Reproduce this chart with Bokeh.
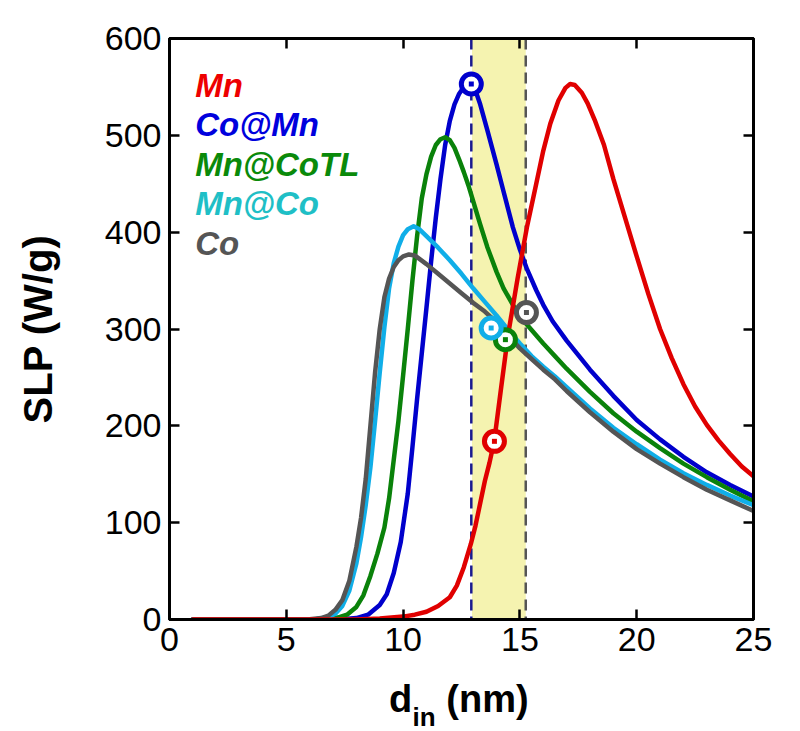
from bokeh.plotting import figure
from bokeh.layouts import column
from bokeh.models import (Range1d, LinearAxis, FixedTicker, Span, BoxAnnotation,
                          Label, CustomJSTickFormatter)
from bokeh.embed import file_html
from bokeh.resources import INLINE

# ---------------- data ----------------
mn_x = [1, 8, 9, 10, 10.5, 11, 11.5, 12, 12.3, 12.6, 12.9, 13.1, 13.3, 13.5, 13.7, 13.9,
        14.2, 14.5, 14.9, 15.3, 15.7, 16.0, 16.3, 16.65, 16.95, 17.15, 17.35, 17.65,
        17.9, 18.2, 18.6, 19.0, 19.5, 20.0, 20.5, 21.0, 21.5, 22.0, 22.5, 23.0, 23.5,
        24.0, 24.5, 25.0]
mn_y = [0, 0, 1, 3, 5, 8, 14, 23, 35, 54, 78, 97, 120, 143, 162, 184,
        240, 295, 352, 405, 450, 484, 512, 536, 549, 553, 552, 544,
        533, 516, 490, 455, 415, 375, 336, 300, 270, 243, 220, 201, 185,
        171, 158, 148]

comn_x = [1, 6.5, 7.5, 8.0, 8.5, 9.0, 9.3, 9.6, 9.9, 10.2, 10.4, 10.6, 10.8, 11.0, 11.2,
          11.4, 11.6, 11.8, 12.0, 12.2, 12.4, 12.6, 12.85, 13.1, 13.3, 13.6, 14.0, 14.3,
          14.7, 15.0, 15.3, 15.7, 16.0, 16.4, 17.0, 18.0, 19.0, 20.0, 21.0, 22.0, 23.0,
          24.0, 25.0]
comn_y = [0, 0, 0.5, 1.5, 5, 15, 26, 48, 80, 130, 178, 228, 275, 322, 370,
          415, 455, 490, 515, 532, 543, 550, 553, 546, 532, 506, 470, 442,
          405, 382, 362, 340, 325, 308, 288, 258, 231, 206, 186, 168, 152,
          139, 127]

mncotl_x = [1, 6.0, 6.8, 7.2, 7.6, 8.0, 8.3, 8.6, 8.9, 9.2, 9.4, 9.6, 9.8, 10.0, 10.2,
            10.4, 10.6, 10.8, 11.0, 11.2, 11.4, 11.6, 11.8, 12.0, 12.2, 12.4, 12.6, 12.8,
            13.0, 13.3, 13.6, 14.0, 14.3, 14.7, 15.0, 15.5, 16.0, 16.5, 17.0, 18.0, 19.0,
            20.0, 21.0, 22.0, 23.0, 24.0, 25.0]
mncotl_y = [0, 0, 0.8, 2, 5, 13, 25, 45, 68, 95, 125, 165, 205, 252, 300,
            350, 396, 435, 460, 478, 490, 496, 498, 495, 487, 475, 462, 448,
            432, 408, 385, 359, 342, 325, 313, 299, 285, 272, 259, 235, 213,
            194, 177, 161, 147, 134, 122]

mnco_x = [1, 5.0, 6.3, 6.8, 7.1, 7.4, 7.7, 8.0, 8.2, 8.4, 8.6, 8.8, 9.0, 9.2, 9.4, 9.6,
          9.8, 10.0, 10.2, 10.45, 10.7, 11.0, 11.5, 12.0, 12.5, 13.0, 13.5, 14.0, 14.5,
          15.0, 15.5, 16.0, 16.5, 17.0, 18.0, 19.0, 20.0, 21.0, 22.0, 23.0, 24.0, 25.0]
mnco_y = [0, 0, 0.5, 2.5, 6, 14, 30, 58, 85, 118, 157, 205, 255, 302, 342, 368,
          385, 397, 403, 406, 403, 396, 384, 371, 357, 342, 328, 314, 299,
          285, 272, 261, 251, 240, 218, 198, 181, 165, 151, 139, 128, 118]

co_x = [1, 5.0, 6.0, 6.5, 6.8, 7.1, 7.4, 7.7, 8.0, 8.2, 8.4, 8.6, 8.8, 9.0, 9.2, 9.4,
        9.6, 9.8, 10.0, 10.25, 10.5, 11.0, 11.5, 12.0, 12.5, 13.0, 13.5, 14.0, 14.5,
        15.0, 15.5, 16.0, 16.5, 17.0, 18.0, 19.0, 20.0, 21.0, 22.0, 23.0, 24.0, 25.0]
co_y = [0, 0, 0.3, 1.5, 4, 10, 20, 40, 75, 105, 145, 200, 255, 300, 333, 352,
        364, 371, 375, 377, 376, 367, 357, 347, 337, 327, 318, 307, 293,
        280, 269, 258, 248, 236, 214, 194, 176, 161, 147, 134, 123, 112]

# highlighted points (open circles)
mark_x = [13.91, 12.92, 14.38, 13.77, 15.28]
mark_y = [184, 553, 289, 301, 317]

series_names = ["Mn", "Co@Mn", "Mn@CoTL", "Mn@Co", "Co"]
line_colors = ["#E00000", "#0000CC", "#0A820A", "#10AEE8", "#555555"]
text_colors = ["#EE0000", "#0000DD", "#0A8A0A", "#1FBFC6", "#555555"]

vline_blue = 12.92
vline_gray = 15.25
band_left = 12.95
band_right = 15.25

x_ticks = [0, 5, 10, 15, 20, 25]
y_ticks = [0, 100, 200, 300, 400, 500, 600]

# ---------------- layout constants (pixels) ----------------
W = 790
LEFT, TOP, RIGHT = 169, 38, 753      # frame edges on the page
FRAME_BOTTOM = 619
H1 = 667                              # main figure height
H2 = 63                               # strip holding the x-axis title
FONT = "Liberation Sans"

p = figure(width=W, height=H1, output_backend="svg", toolbar_location=None,
           x_range=Range1d(0, 25), y_range=Range1d(0, 600),
           min_border_left=LEFT, min_border_top=TOP,
           min_border_right=W - RIGHT, min_border_bottom=H1 - FRAME_BOTTOM)
p.grid.visible = False
p.outline_line_color = "black"
p.outline_line_width = 3
p.background_fill_color = "white"
p.border_fill_color = "white"

xa = p.xaxis[0]
ya = p.yaxis[0]
xa.ticker = FixedTicker(ticks=x_ticks)
ya.ticker = FixedTicker(ticks=y_ticks)

top = LinearAxis(ticker=FixedTicker(ticks=x_ticks),
                 formatter=CustomJSTickFormatter(code="return ''"))
right = LinearAxis(ticker=FixedTicker(ticks=y_ticks),
                   formatter=CustomJSTickFormatter(code="return ''"))
p.add_layout(top, "above")
p.add_layout(right, "right")

for ax in (xa, ya, top, right):
    ax.axis_line_width = 3
    ax.axis_line_color = "black"
    ax.major_tick_in = 10
    ax.major_tick_out = 0
    ax.major_tick_line_width = 2.5
    ax.minor_tick_line_color = None
    ax.major_label_text_font = FONT
    ax.major_label_text_font_size = "34px"
    ax.major_label_text_color = "black"
    ax.major_label_standoff = 8
for ax in (top, right):
    ax.major_label_standoff = 0
    ax.major_label_text_font_size = "1px"

ya.axis_label = "SLP (W/g)"
ya.axis_label_text_font = FONT
ya.axis_label_text_font_style = "bold"
ya.axis_label_text_font_size = "40px"
ya.axis_label_text_color = "black"
ya.axis_label_standoff = 42

# yellow band and dashed markers
p.add_layout(BoxAnnotation(left=band_left, right=band_right, fill_color="#F5F3B0",
                           fill_alpha=1.0, line_color=None, level="underlay"))
p.add_layout(Span(location=vline_blue, dimension="height", line_color="#1A1A90",
                  line_width=2.5, line_dash="11 6", level="underlay"))
p.add_layout(Span(location=vline_gray, dimension="height", line_color="#555555",
                  line_width=2.5, line_dash="11 6", level="underlay"))

# curves
xs = [mn_x, comn_x, mncotl_x, mnco_x, co_x]
ys = [mn_y, comn_y, mncotl_y, mnco_y, co_y]
order = [1, 2, 3, 4, 0]
for i in order:
    p.line(xs[i], ys[i], line_color=line_colors[i], line_width=4.5,
           line_join="round", line_cap="round")

# highlighted points
for i in range(5):
    p.scatter([mark_x[i]], [mark_y[i]], marker="circle", size=20,
              line_color=line_colors[i], line_width=5, fill_color="white")
    p.scatter([mark_x[i]], [mark_y[i]], marker="square", size=5,
              line_color=None, fill_color=line_colors[i])

# legend as coloured text
for i, name in enumerate(series_names):
    p.add_layout(Label(x=1.1, y=551.6 - 40.8 * i, text=name,
                       text_font=FONT, text_font_style="bold italic",
                       text_font_size="33px", text_color=text_colors[i],
                       text_baseline="alphabetic", text_align="left"))

# ---------------- strip with the x-axis title (d_in (nm)) ----------------
q = figure(width=W, height=H2, output_backend="svg", toolbar_location=None,
           x_range=p.x_range, y_range=Range1d(0, H2),
           x_axis_location=None, y_axis_location=None,
           min_border_left=LEFT, min_border_right=W - RIGHT,
           min_border_top=0, min_border_bottom=0)
q.grid.visible = False
q.outline_line_color = None
q.background_fill_color = "white"
q.border_fill_color = "white"

base_main = H2 - (698 - H1)     # baseline of "d" and "(nm)"
base_sub = H2 - (716 - H1)      # baseline of subscript "in"
q.add_layout(Label(x=9.40, y=base_main, text="d", text_font=FONT,
                   text_font_style="bold", text_font_size="38px",
                   text_color="black", text_baseline="alphabetic"))
q.add_layout(Label(x=10.40, y=base_sub, text="in", text_font=FONT,
                   text_font_style="bold", text_font_size="26px",
                   text_color="black", text_baseline="alphabetic"))
q.add_layout(Label(x=11.85, y=base_main, text="(nm)", text_font=FONT,
                   text_font_style="bold", text_font_size="38px",
                   text_color="black", text_baseline="alphabetic"))

open("out.html", "w").write(file_html(column(p, q), INLINE))
